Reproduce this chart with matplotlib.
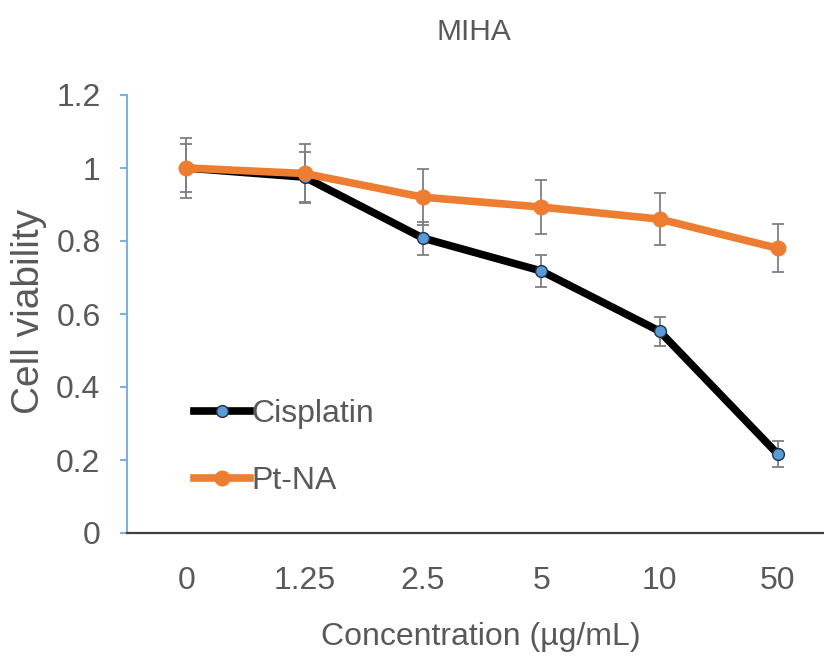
import matplotlib
matplotlib.use("Agg")
import matplotlib.pyplot as plt

# ---------------------------------------------------------------------------
# Data
# ---------------------------------------------------------------------------

CONC_LABELS = ["0", "1.25", "2.5", "5", "10", "50"]

CISPLATIN     = [1.00, 0.975, 0.808, 0.718, 0.553, 0.216]
CISPLATIN_ERR = [0.065, 0.068, 0.045, 0.044, 0.040, 0.035]

PT_NA     = [1.00, 0.985, 0.920, 0.893, 0.860, 0.780]
PT_NA_ERR = [0.083, 0.082, 0.077, 0.075, 0.071, 0.066]

# ---------------------------------------------------------------------------
# Style
# ---------------------------------------------------------------------------

TEXT_C   = "#595959"
ORANGE   = "#ED7D31"
BLUE_MK  = "#5B9BD5"
YAXIS_C  = "#7EB0E0"
ERR_C    = "#7f7f7f"

plt.rcParams.update({
    "font.family": "Liberation Sans",
    "font.size":   23,
})

fig = plt.figure(figsize=(8.24, 6.66), dpi=100)
ax = fig.add_axes([127 / 824, 133 / 666, 710 / 824, 438 / 666])

x = list(range(len(CONC_LABELS)))

# error bars
ax.errorbar(x, CISPLATIN, yerr=CISPLATIN_ERR, fmt="none", ecolor=ERR_C,
            elinewidth=1.3, capsize=4.3, capthick=1.3, zorder=2)
ax.errorbar(x, PT_NA, yerr=PT_NA_ERR, fmt="none", ecolor=ERR_C,
            elinewidth=1.3, capsize=4.3, capthick=1.3, zorder=2)

# lines
l1, = ax.plot(x, CISPLATIN, color="black", lw=5.5, marker="o", ms=8.5,
              mfc=BLUE_MK, mec="#1f2f4a", mew=1.0, zorder=3, label="Cisplatin")
l2, = ax.plot(x, PT_NA, color=ORANGE, lw=5.5, marker="o", ms=10.5,
              mfc=ORANGE, mec=ORANGE, zorder=4, label="Pt-NA")

ax.set_xlim(-0.5, 5.5)
ax.set_ylim(0, 1.2)
ax.set_yticks([0, 0.2, 0.4, 0.6, 0.8, 1.0, 1.2])
ax.set_yticklabels(["0", "0.2", "0.4", "0.6", "0.8", "1", "1.2"])
ax.set_xticks(x)
ax.set_xticklabels(CONC_LABELS)

for s in ("top", "right"):
    ax.spines[s].set_visible(False)
ax.spines["left"].set_color(YAXIS_C)
ax.spines["left"].set_linewidth(1.5)
ax.spines["bottom"].set_color("#404040")
ax.spines["bottom"].set_linewidth(1.6)
ax.spines["bottom"].set_zorder(5)

ax.tick_params(axis="y", direction="out", length=5, width=1.5,
               color=YAXIS_C, labelcolor=TEXT_C, pad=14)
ax.tick_params(axis="x", length=0, labelcolor=TEXT_C, pad=24)

ax.set_xlabel("Concentration (\u00b5g/mL)", color=TEXT_C)
ax.xaxis.set_label_coords((481 - 127) / 710, -(645 - 533) / 438)
ax.xaxis.label.set_va("baseline")
ax.set_ylabel("Cell viability", color=TEXT_C, fontsize=28)
ax.yaxis.set_label_coords((47 - 127) / 710, 0.505)

fig.text(474 / 824, 1 - 40 / 666, "MIHA", ha="center", va="baseline",
         color=TEXT_C, fontsize=21.5)

ax.legend(handles=[l1, l2], loc="upper left", frameon=False,
          bbox_to_anchor=((194 - 127) / 710, (533 - 399) / 438),
          handlelength=1.75, handletextpad=0.05, labelspacing=1.15,
          borderaxespad=0, borderpad=0, labelcolor=TEXT_C)

fig.savefig("out.png", dpi=100)
